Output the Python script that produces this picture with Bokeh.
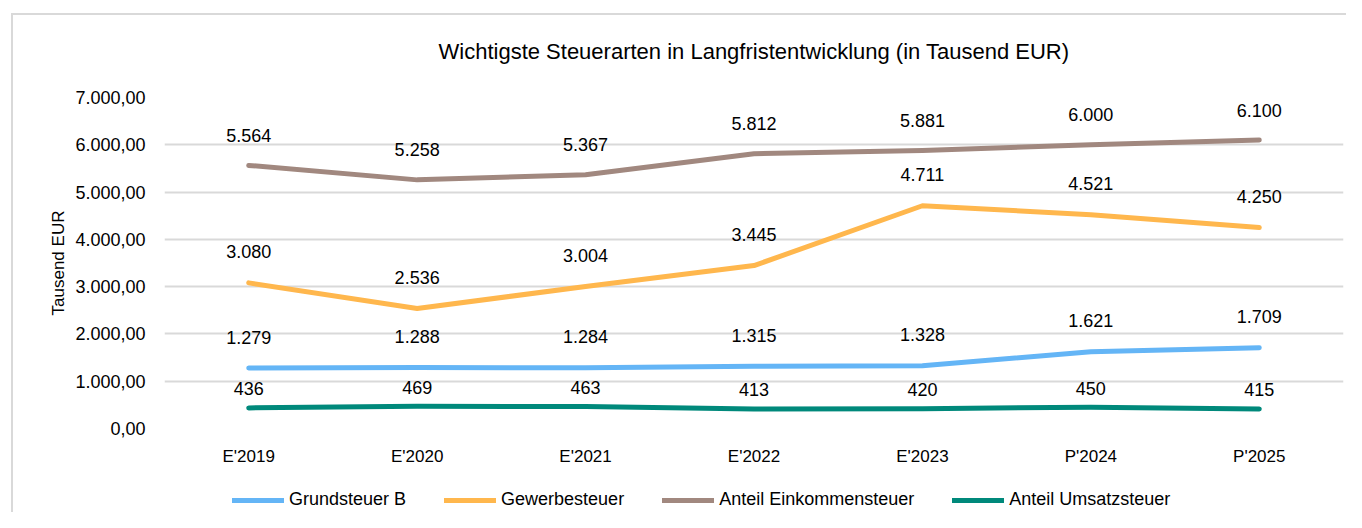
from bokeh.plotting import figure
from bokeh.models import (ColumnDataSource, FactorRange, Range1d, Legend, LegendItem,
                          FixedTicker, Title, InlineStyleSheet)
from bokeh.layouts import column
from bokeh.embed import file_html
from bokeh.resources import INLINE
from bokeh.core.properties import value

categories = ["E'2019", "E'2020", "E'2021", "E'2022", "E'2023", "P'2024", "P'2025"]
grundsteuer_b = [1279, 1288, 1284, 1315, 1328, 1621, 1709]
gewerbesteuer = [3080, 2536, 3004, 3445, 4711, 4521, 4250]
einkommensteuer = [5564, 5258, 5367, 5812, 5881, 6000, 6100]
umsatzsteuer = [436, 469, 463, 413, 420, 450, 415]
series_names = ["Grundsteuer B", "Gewerbesteuer", "Anteil Einkommensteuer", "Anteil Umsatzsteuer"]
y_ticks = [0, 1000, 2000, 3000, 4000, 5000, 6000, 7000]
y_tick_labels = ["0,00", "1.000,00", "2.000,00", "3.000,00", "4.000,00", "5.000,00", "6.000,00", "7.000,00"]

FONT = "Liberation Sans"

def de_fmt(v):
    return f"{v:,}".replace(",", ".")

p = figure(width=1346, height=470, x_range=FactorRange(*categories), y_range=Range1d(0, 7000),
           output_backend="svg", toolbar_location=None,
           min_border_left=164, min_border_right=3, min_border_top=97, min_border_bottom=42)
p.outline_line_color = None
p.background_fill_color = "white"
p.border_fill_color = "white"

title = Title(text="Wichtigste Steuerarten in Langfristentwicklung (in Tausend EUR)",
              align="center", text_font=FONT, text_font_size="22px", text_font_style="normal",
              text_color="#000000", standoff=68)
p.add_layout(title, "above")

p.xgrid.grid_line_color = None
p.ygrid.grid_line_color = "#d9d9d9"
p.ygrid.grid_line_width = 2

p.yaxis.ticker = FixedTicker(ticks=y_ticks)
p.yaxis.major_label_overrides = {t: l for t, l in zip(y_ticks, y_tick_labels)}
for ax in (p.xaxis[0], p.yaxis[0]):
    ax.axis_line_color = None
    ax.major_tick_line_color = None
    ax.minor_tick_line_color = None
    ax.major_label_text_font = FONT
    ax.major_label_text_color = "#000000"
p.yaxis.major_label_text_font_size = "18px"
p.xaxis.major_label_text_font_size = "17px"
p.xaxis.major_label_standoff = 12
p.yaxis.major_label_standoff = 13
p.yaxis.axis_label = "Tausend EUR"
p.yaxis.axis_label_text_font = FONT
p.yaxis.axis_label_text_font_size = "17px"
p.yaxis.axis_label_text_font_style = "normal"
p.yaxis.axis_label_text_color = "#000000"
p.yaxis.axis_label_standoff = 4

colors = ["#64B5F6", "#FFB74D", "#A1887F", "#00897B"]
data = [grundsteuer_b, gewerbesteuer, einkommensteuer, umsatzsteuer]
offsets = [-31, -31, -30, -19]

# legend strip (frame is aligned with the main plot's frame by the column layout)
p2 = figure(width=1346, height=42, x_range=Range1d(0, 1), y_range=Range1d(0, 1),
            output_backend="svg", toolbar_location=None, x_axis_type=None, y_axis_type=None,
            min_border_left=0, min_border_right=0, min_border_top=0, min_border_bottom=0)
p2.outline_line_color = None
p2.grid.grid_line_color = None
p2.background_fill_color = "white"
p2.border_fill_color = "white"

items = []
for name, vals, col, off in zip(series_names, data, colors, offsets):
    src = ColumnDataSource(dict(x=categories, y=vals, lbl=[de_fmt(v) for v in vals]))
    p.line("x", "y", source=src, line_color=col, line_width=5, line_cap="round", line_join="round")
    p.text("x", "y", text="lbl", source=src, text_align="center", text_baseline="middle",
           y_offset=off, text_font=value(FONT), text_font_size="18px", text_color="#000000")
    # legend proxy, drawn outside the visible range of the strip
    proxy = p2.line(x=[-10, -9], y=[-10, -9], line_color=col, line_width=5, line_cap="round")
    items.append(LegendItem(label=name, renderers=[proxy]))

legend = Legend(items=items, orientation="horizontal", location=(68, 2),
                glyph_width=52, glyph_height=20, label_standoff=5, spacing=38,
                label_text_font=FONT, label_text_font_size="18px", label_text_color="#000000",
                padding=0, margin=0, border_line_color=None, background_fill_alpha=0)
p2.add_layout(legend, "center")

layout = column(p, p2, spacing=0)
layout.stylesheets = [InlineStyleSheet(css="""
:host::after {
  content: "";
  position: absolute;
  left: 11px; top: 13px; right: 0px; bottom: 0px;
  border-left: 2px solid #d9d9d9;
  border-top: 2px solid #d9d9d9;
  pointer-events: none;
  z-index: 5;
}
""")]

open("out.html", "w").write(file_html(layout, INLINE))
